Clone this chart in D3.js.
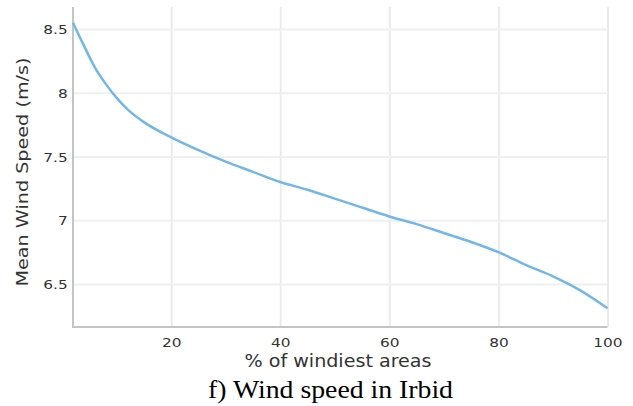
<!DOCTYPE html>
<html>
<head>
<meta charset="utf-8">
<script src="https://cdn.jsdelivr.net/npm/d3@7/dist/d3.min.js"></script>
<style>
  html, body { margin: 0; padding: 0; background: #fff; }
  svg { display: block; }
  .tick text { font-family: "DejaVu Sans", Verdana, sans-serif; fill: #333; }
</style>
</head>
<body>
<svg id="chart" width="633" height="406"></svg>
<script>
// Share of windiest areas (%) and the mean wind speed over that share (m/s)
const areaShare = [2, 4, 6, 8, 10, 12, 15, 20, 25, 30, 35, 40, 45, 50, 55, 60, 65, 70, 75, 80, 85, 90, 95, 100];
const meanSpeed = [8.55, 8.37, 8.20, 8.07, 7.96, 7.87, 7.77, 7.65, 7.55, 7.46, 7.38, 7.30, 7.24, 7.17, 7.10, 7.03, 6.97, 6.90, 6.83, 6.75, 6.65, 6.56, 6.45, 6.31];
const xTicks = [20, 40, 60, 80, 100];
const yTicks = [6.5, 7, 7.5, 8, 8.5];
const xTitle = "% of windiest areas";
const yTitle = "Mean Wind Speed (m/s)";
const caption = "f) Wind speed in Irbid";

const svg = d3.select("#chart");
const plot = { left: 73, right: 607.5, top: 7, bottom: 327 };

const x = d3.scaleLinear().domain([2, 100]).range([plot.left, plot.right]);
const y = d3.scaleLinear().domain([6.163, 8.673]).range([plot.bottom, plot.top]);

// grid lines
svg.append("g")
  .attr("transform", `translate(0,${plot.bottom})`)
  .call(d3.axisBottom(x).tickValues(xTicks).tickSize(-(plot.bottom - plot.top)).tickFormat(""))
  .call(g => g.select(".domain").remove())
  .call(g => g.selectAll("line").attr("stroke", "#ebebeb").attr("stroke-width", 2));

svg.append("g")
  .attr("transform", `translate(${plot.left},0)`)
  .call(d3.axisLeft(y).tickValues(yTicks).tickSize(-(plot.right - plot.left)).tickFormat(""))
  .call(g => g.select(".domain").remove())
  .call(g => g.selectAll("line").attr("stroke", "#efefef").attr("stroke-width", 2));

// axes with labels only
const xAxis = svg.append("g")
  .attr("transform", `translate(0,${plot.bottom})`)
  .call(d3.axisBottom(x).tickValues(xTicks).tickSize(0).tickPadding(0).tickFormat(d3.format("d")));
xAxis.select(".domain").remove();
xAxis.selectAll("text")
  .attr("dy", null).attr("y", 20)
  .style("font-size", "13px")
  .attr("transform", "scale(1.18,1)");

const yAxis = svg.append("g")
  .attr("transform", `translate(${plot.left},0)`)
  .call(d3.axisLeft(y).tickValues(yTicks).tickSize(0).tickPadding(0).tickFormat(d => String(d)));
yAxis.select(".domain").remove();
yAxis.selectAll("text")
  .attr("x", -4.5)
  .attr("dy", "0.36em")
  .style("font-size", "13px")
  .attr("transform", "scale(1.18,1)");

// axis lines
svg.append("line")
  .attr("x1", plot.left).attr("x2", plot.left)
  .attr("y1", plot.top).attr("y2", plot.bottom + 1)
  .attr("stroke", "#c4c4c4").attr("stroke-width", 2);
svg.append("line")
  .attr("x1", plot.left - 1).attr("x2", plot.right)
  .attr("y1", plot.bottom).attr("y2", plot.bottom)
  .attr("stroke", "#c4c4c4").attr("stroke-width", 2);

// curve
const pts = areaShare.map((v, i) => [v, meanSpeed[i]]);
svg.append("path")
  .datum(pts)
  .attr("fill", "none")
  .attr("stroke", "#72b7e6")
  .attr("stroke-width", 2.5)
  .attr("stroke-linejoin", "round")
  .attr("d", d3.line().x(d => x(d[0])).y(d => y(d[1])).curve(d3.curveMonotoneX));

// axis titles
svg.append("text")
  .attr("x", 338).attr("y", 367)
  .attr("text-anchor", "middle")
  .attr("textLength", 187).attr("lengthAdjust", "spacingAndGlyphs")
  .style("font-family", "'DejaVu Sans', Verdana, sans-serif")
  .style("font-size", "17px").style("fill", "#333")
  .text(xTitle);

svg.append("text")
  .attr("transform", "translate(28,172) rotate(-90)")
  .attr("text-anchor", "middle")
  .attr("textLength", 229).attr("lengthAdjust", "spacingAndGlyphs")
  .style("font-family", "'DejaVu Sans', Verdana, sans-serif")
  .style("font-size", "16px").style("fill", "#333")
  .text(yTitle);

// caption
svg.append("text")
  .attr("x", 330.5).attr("y", 398)
  .attr("text-anchor", "middle")
  .attr("textLength", 245).attr("lengthAdjust", "spacingAndGlyphs")
  .style("font-family", "'Liberation Serif', 'Times New Roman', serif")
  .style("font-size", "25px").style("fill", "#000")
  .text(caption);
</script>
</body>
</html>
